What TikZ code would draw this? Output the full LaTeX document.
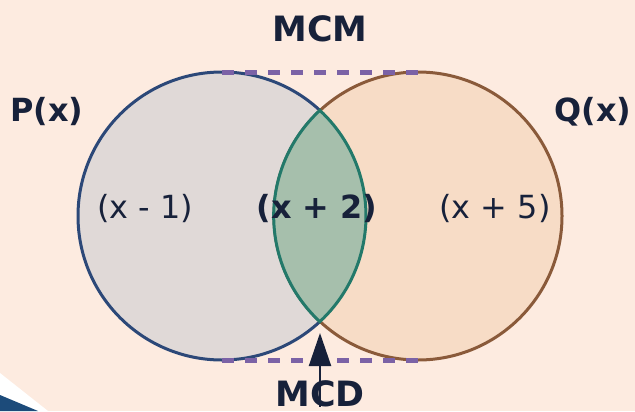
\documentclass[tikz,border=0pt]{standalone}
\usepackage{fontspec}
\setmainfont{DejaVu Sans}
\usetikzlibrary{arrows.meta,positioning}

\definecolor{bgpeach}{HTML}{FDEBE0}
\definecolor{pfill}{HTML}{E0D9D7}
\definecolor{pline}{HTML}{2C4878}
\definecolor{qfill}{HTML}{F7DCC6}
\definecolor{qline}{HTML}{8A5A3A}
\definecolor{lensfill}{HTML}{A6BFAC}
\definecolor{lensline}{HTML}{23796A}
\definecolor{dashline}{HTML}{7B62A6}
\definecolor{inkblue}{HTML}{17213A}
\definecolor{cornerblue}{HTML}{1C4B7A}

\begin{document}
\begin{tikzpicture}[
  x=1bp, y=1bp,
  title/.style={font=\fontsize{35}{40}\selectfont\bfseries, text=inkblue, inner sep=0pt, anchor=base},
  side/.style={title, font=\fontsize{32}{36}\selectfont\bfseries},
  factor/.style={font=\fontsize{32}{36}\selectfont, text=inkblue, inner sep=0pt, anchor=base},
  ring/.style={line width=3bp},
  bound/.style={dashline, line width=5bp, dash pattern=on 12bp off 11bp},
  pointer/.style={-{Triangle[length=33bp,width=22bp]}, inkblue, line width=2bp}
]

% ---------- Page and corner ----------
\useasboundingbox (0,0) rectangle (635,411);
\fill[bgpeach] (0,0) rectangle (635,411);
\fill[white] (0,38) -- (48,0) -- (0,0) -- cycle;
\fill[cornerblue] (0,16) -- (38,0) -- (0,0) -- cycle;

% ---------- Circles ----------
\coordinate (pc) at (222,195);
\coordinate (qc) at (418,195);
\filldraw[ring, fill=pfill, draw=pline] (pc) circle (144);
\filldraw[ring, fill=qfill, draw=qline] (qc) circle (144);

% common part (lens)
\filldraw[ring, fill=lensfill, draw=lensline]
  (pc) ++(47.2:144) arc[start angle=47.2, end angle=-47.2, radius=144]
  arc[start angle=227.2, end angle=132.8, radius=144] -- cycle;

% ---------- Dashed tangents ----------
\coordinate (ptop) at (222,339);
\coordinate (qtop) at (418,339);
\coordinate (pbot) at (222,51);
\coordinate (qbot) at (418,51);
\draw[bound] (ptop) -- (qtop);
\draw[bound] (pbot) -- (qbot);

% ---------- Labels ----------
\node[title] (mcm) at (320,370) {MCM};
\node[side] (px) at (47,290) {P(x)};
\node[side] (qx) at (593,290) {Q(x)};
\node[title] (mcd) at (320,5) {MCD};

\node[factor] (f1) at (145,193) {(x - 1)};
\node[factor, font=\fontsize{32}{36}\selectfont\bfseries] (f2) at (317,193) {(x + 2)};
\node[factor] (f3) at (495,193) {(x + 5)};

% ---------- Arrow to the meeting point ----------
\coordinate (meet) at (320,78);
\draw[pointer] (mcd.south) -- (meet);

\end{tikzpicture}
\end{document}
